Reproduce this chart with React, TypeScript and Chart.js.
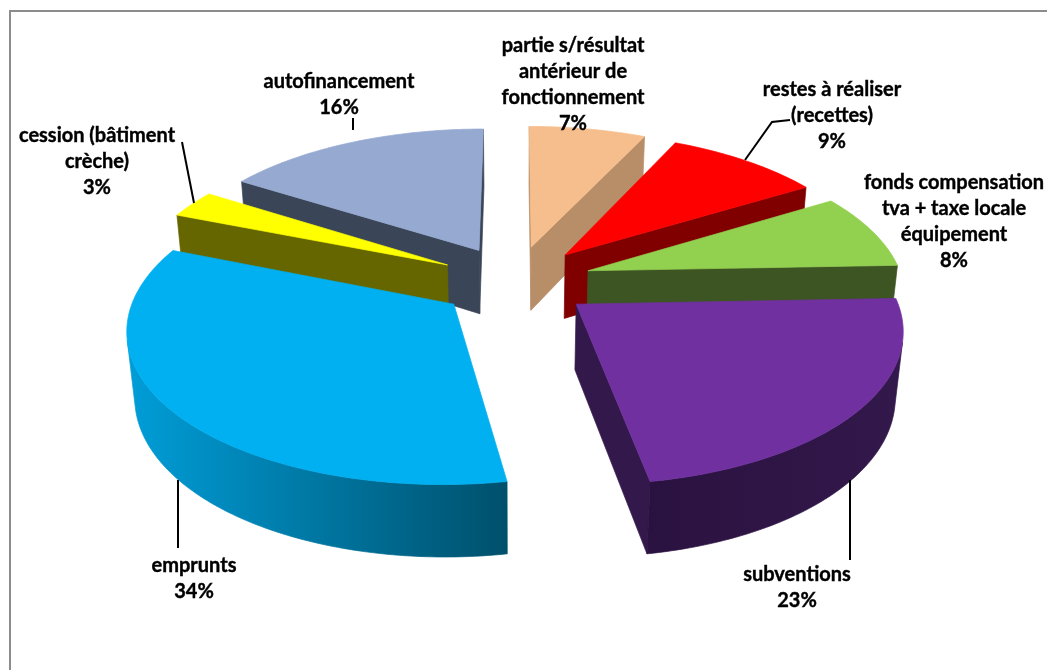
import React, { useEffect, useRef } from "react";
import { Chart, registerables } from "chart.js";

Chart.register(...registerables);

const categories = [
  "partie s/résultat antérieur de fonctionnement",
  "restes à réaliser (recettes)",
  "fonds compensation tva + taxe locale équipement",
  "subventions",
  "emprunts",
  "cession (bâtiment crèche)",
  "autofinancement",
];
const shares = [7.0, 9.3, 8.1, 22.9, 33.7, 3.0, 16.0];
const topColors = ["#F7BE8D", "#FF0000", "#92D050", "#7030A0", "#00B0F0", "#FFFF00", "#95A9D1"];
const wallStart = ["#B88E68", "#800000", "#3D5423", "#2A1240", "#009CD6", "#666600", "#3B4558"];
const wallEnd = ["#B88E68", "#800000", "#3D5423", "#33184B", "#00506C", "#666600", "#3B4558"];
const drawOrder = [6, 0, 1, 2, 5, 3, 4];

const labelLines = [
  ["partie s/résultat", "antérieur de", "fonctionnement", "7%"],
  ["restes à réaliser", "(recettes)", "9%"],
  ["fonds compensation", "tva + taxe locale", "équipement", "8%"],
  ["subventions", "23%"],
  ["emprunts", "34%"],
  ["cession (bâtiment", "crèche)", "3%"],
  ["autofinancement", "16%"],
];
const labelAnchors = [
  [573, 46], [832, 90], [954, 183], [797, 575], [194, 566], [97, 136], [339, 82],
];
const leaders = [
  [[790, 120], [772, 122], [745, 160]],
  [[850, 480], [850, 560]],
  [[178, 480], [178, 548]],
  [[182, 142], [194, 203]],
  [[353, 118], [353, 130]],
];

const WORLD_R = 320;
const CX = 515, CY = 281, S0 = 0.984, PY = 0.00045, KY = 0.467, QH = 0.02, MH = 67;

function project(X: number, Y: number, bottom: boolean) {
  const w = 1 - PY * Y + (bottom ? QH : 0);
  const s = S0 / w;
  return [CX + X * s, CY + (KY * Y + (bottom ? MH : 0)) * s];
}

function signedArea(p: number[][]) {
  let a = 0;
  for (let i = 0; i < p.length; i++) {
    const q = p[(i + 1) % p.length];
    a += p[i][0] * q[1] - q[0] * p[i][1];
  }
  return a;
}

function fillPoly(ctx: CanvasRenderingContext2D, pts: number[][], fill: any) {
  ctx.beginPath();
  pts.forEach((p, i) => (i ? ctx.lineTo(p[0], p[1]) : ctx.moveTo(p[0], p[1])));
  ctx.closePath();
  ctx.fillStyle = fill;
  ctx.strokeStyle = fill;
  ctx.lineWidth = 0.7;
  ctx.fill();
  ctx.stroke();
}

const pie3d = {
  id: "pie3d",
  beforeDatasetsDraw(chart: any) {
    const ctx: CanvasRenderingContext2D = chart.ctx;
    const arcs = chart.getDatasetMeta(0).data;
    for (const i of drawOrder) {
      const arc = arcs[i];
      const scale = WORLD_R / arc.outerRadius;
      const off = arc.options.offset * scale;
      const mid = (arc.startAngle + arc.endAngle) / 2;
      const ax = Math.cos(mid) * off;
      const ay = Math.sin(mid) * off;
      const steps = Math.max(2, Math.ceil(((arc.endAngle - arc.startAngle) * 180) / Math.PI));
      const rim: number[][] = [];
      for (let k = 0; k <= steps; k++) {
        const t = arc.startAngle + ((arc.endAngle - arc.startAngle) * k) / steps;
        rim.push([ax + Math.cos(t) * WORLD_R, ay + Math.sin(t) * WORLD_R]);
      }
      const top = rim.map((p) => project(p[0], p[1], false));
      const bot = rim.map((p) => project(p[0], p[1], true));
      const apexT = project(ax, ay, false);
      const apexB = project(ax, ay, true);
      const face = (a: number[], b: number[], c: number[], d: number[], fill: any) => {
        const q = [a, b, c, d];
        if (signedArea(q) < 0) fillPoly(ctx, q, fill);
      };
      face(apexT, top[0], bot[0], apexB, wallStart[i]);
      face(top[steps], apexT, apexB, bot[steps], wallEnd[i]);
      // The outer wall: contiguous camera-facing segments form one polygon.
      const xs = bot.map((p) => p[0]);
      const grad = ctx.createLinearGradient(Math.min(...xs), 0, Math.max(...xs), 0);
      grad.addColorStop(0, wallStart[i]);
      grad.addColorStop(1, wallEnd[i]);
      let run: number[] = [];
      const flush = () => {
        if (run.length > 1) {
          fillPoly(ctx, [...run.map((k) => top[k]), ...run.slice().reverse().map((k) => bot[k])], grad);
        }
        run = [];
      };
      for (let k = 0; k < steps; k++) {
        const vis = signedArea([top[k], top[k + 1], bot[k + 1], bot[k]]) < 0;
        if (vis) {
          if (!run.length) run.push(k);
          run.push(k + 1);
        } else flush();
      }
      flush();
      fillPoly(ctx, [apexT, ...top], arc.options.backgroundColor);
    }
    return false;
  },
  afterDraw(chart: any) {
    const ctx: CanvasRenderingContext2D = chart.ctx;
    ctx.save();
    ctx.strokeStyle = "#8C8C8C";
    ctx.lineWidth = 2;
    ctx.beginPath();
    ctx.moveTo(10, 672);
    ctx.lineTo(10, 11);
    ctx.lineTo(1049, 11);
    ctx.stroke();
    ctx.strokeStyle = "#000000";
    ctx.lineWidth = 2;
    leaders.forEach((line) => {
      ctx.beginPath();
      line.forEach((p, i) => (i ? ctx.lineTo(p[0], p[1]) : ctx.moveTo(p[0], p[1])));
      ctx.stroke();
    });
    ctx.fillStyle = "#000000";
    ctx.strokeStyle = "#000000";
    ctx.lineWidth = 0.4;
    ctx.font = "700 20px Lato";
    ctx.textAlign = "center";
    ctx.textBaseline = "middle";
    labelLines.forEach((lines, i) => {
      lines.forEach((t, j) => {
        const y = labelAnchors[i][1] + j * 26;
        ctx.fillText(t, labelAnchors[i][0], y);
        ctx.strokeText(t, labelAnchors[i][0], y);
      });
    });
    ctx.restore();
  },
};

export default function App() {
  const ref = useRef<HTMLCanvasElement>(null);
  useEffect(() => {
    const chart = new Chart(ref.current as HTMLCanvasElement, {
      type: "pie",
      data: {
        labels: categories,
        datasets: [{ data: shares, backgroundColor: topColors, offset: 73, borderWidth: 0 }],
      },
      options: {
        responsive: false,
        animation: false,
        rotation: 0,
        plugins: { legend: { display: false }, tooltip: { enabled: false } },
      },
      plugins: [pie3d],
    } as any);
    return () => chart.destroy();
  }, []);
  return (
    <div style={{ position: "absolute", left: 0, top: 0, width: 1047, height: 670, overflow: "hidden", background: "#fff" }}>
      <canvas ref={ref} width={1047} height={670} style={{ display: "block" }} />
    </div>
  );
}
